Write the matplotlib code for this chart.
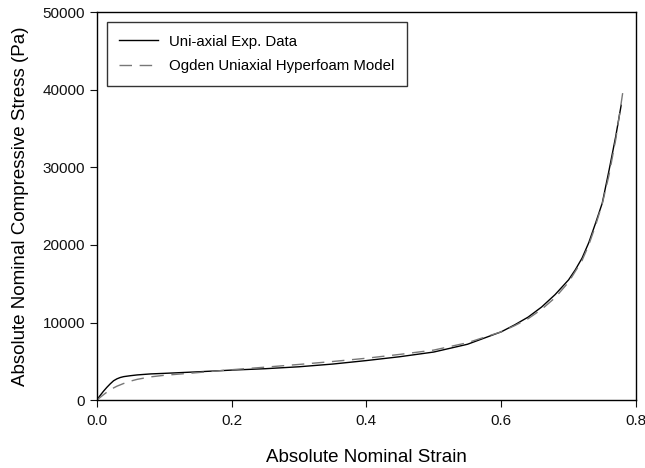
import matplotlib
matplotlib.use("Agg")
import matplotlib.pyplot as plt

plt.rcParams['font.family'] = ['Liberation Sans', 'DejaVu Sans']

# Uni-axial compression test data
exp_strain = [0.0, 0.005, 0.01, 0.015, 0.02, 0.025, 0.03, 0.035, 0.04, 0.05, 0.06,
              0.08, 0.1, 0.15, 0.2, 0.25, 0.3, 0.35, 0.4, 0.45, 0.5, 0.55, 0.6,
              0.62, 0.64, 0.66, 0.68, 0.7, 0.71, 0.72, 0.73, 0.74, 0.75, 0.76,
              0.77, 0.775, 0.778]
exp_stress = [0, 600, 1150, 1650, 2100, 2500, 2750, 2920, 3030, 3150, 3250,
              3380, 3450, 3650, 3870, 4050, 4300, 4650, 5100, 5600, 6200, 7200, 8800,
              9700, 10700, 12000, 13600, 15500, 16800, 18300, 20300, 22800, 25400, 29600,
              34000, 36500, 38000]

# Ogden hyperfoam fit
model_strain = [0.0, 0.01, 0.02, 0.03, 0.04, 0.05, 0.06, 0.08, 0.1, 0.15, 0.2,
                0.25, 0.3, 0.35, 0.4, 0.45, 0.5, 0.55, 0.6, 0.62, 0.64, 0.66,
                0.68, 0.7, 0.72, 0.73, 0.74, 0.75, 0.76, 0.77, 0.775, 0.781]
model_stress = [0, 700, 1350, 1800, 2150, 2450, 2680, 3000, 3200, 3550, 3920,
                4250, 4600, 4980, 5400, 5900, 6450, 7400, 8800, 9600, 10500, 11700,
                13200, 15200, 18000, 20000, 22500, 25300, 29000, 33600, 36500, 40000]

fig = plt.figure(figsize=(6.45, 4.68), dpi=100)
ax = fig.add_axes([0.150, 0.145, 0.836, 0.829])

ax.plot(exp_strain, exp_stress, color='black', lw=1.0, label='Uni-axial Exp. Data')
ax.plot(model_strain, model_stress, color='#777777', lw=1.0, dashes=(9, 5.5),
        label='Ogden Uniaxial Hyperfoam Model')

ax.set_xlim(0, 0.8)
ax.set_ylim(0, 50000)
ax.set_xticks([0.0, 0.2, 0.4, 0.6, 0.8])
ax.set_xticklabels(['0.0', '0.2', '0.4', '0.6', '0.8'])
ax.set_yticks([0, 10000, 20000, 30000, 40000, 50000])
ax.tick_params(direction='out', length=5, labelsize=11, top=False, right=False,
               colors='#111111')
ax.tick_params(axis='x', pad=5)
for s in ax.spines.values():
    s.set_linewidth(1.0)

ax.set_xlabel('Absolute Nominal Strain', fontsize=13.5, labelpad=15)
ax.set_ylabel('Absolute Nominal Compressive Stress (Pa)', fontsize=13.5, labelpad=10)

leg = ax.legend(loc='upper left', fontsize=10.8, frameon=True, fancybox=False,
                edgecolor='black', handlelength=2.6, handletextpad=0.7,
                borderpad=0.85, labelspacing=0.7,
                bbox_to_anchor=(0.0, 1.0), borderaxespad=0.65)
leg.get_frame().set_linewidth(1.0)

fig.savefig('out.png', dpi=100)
